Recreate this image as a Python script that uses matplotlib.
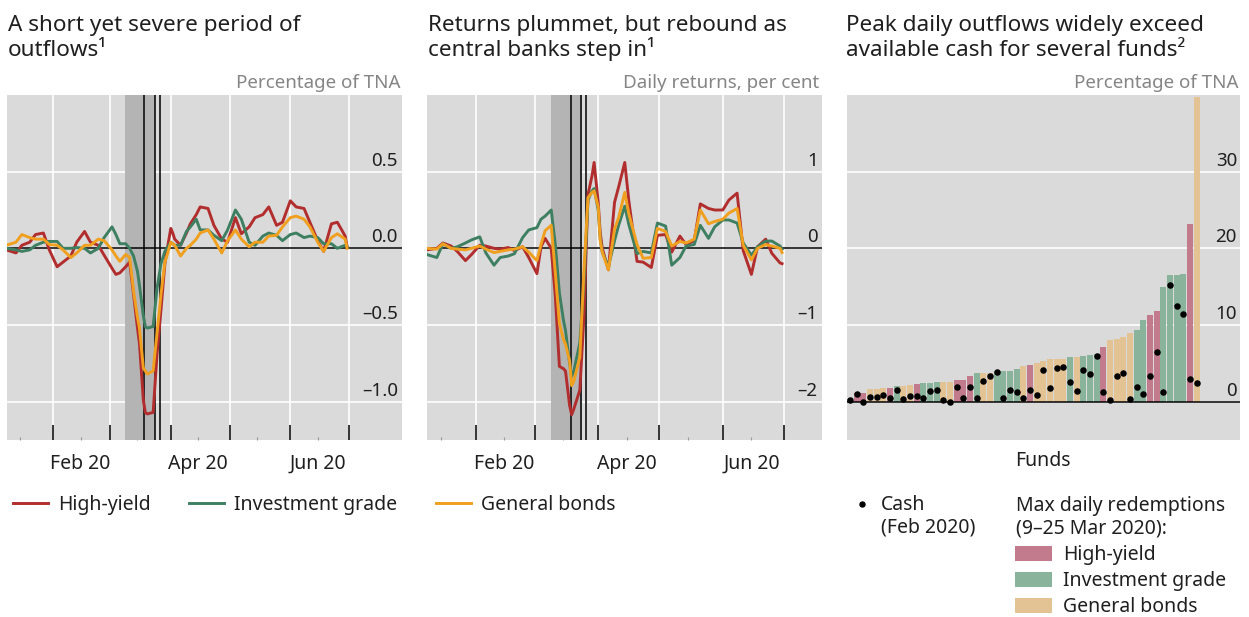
import matplotlib
matplotlib.use('Agg')
import matplotlib.pyplot as plt
import matplotlib.transforms as mtransforms
from matplotlib.lines import Line2D
from matplotlib.patches import Rectangle
import pandas as pd

plt.rcParams['font.family'] = ['Noto Sans', 'DejaVu Sans']

# ---------------- data ----------------
dates = ['2020-01-08', '2020-01-13', '2020-01-16', '2020-01-20', '2020-01-23', '2020-01-27', '2020-01-30',
         '2020-02-03', '2020-02-06', '2020-02-10', '2020-02-13', '2020-02-17', '2020-02-20', '2020-02-24',
         '2020-02-27', '2020-03-02', '2020-03-04', '2020-03-06', '2020-03-09', '2020-03-11', '2020-03-13',
         '2020-03-15', '2020-03-16', '2020-03-18', '2020-03-19', '2020-03-20', '2020-03-23', '2020-03-25',
         '2020-03-27', '2020-03-29', '2020-03-30', '2020-04-01', '2020-04-02', '2020-04-03', '2020-04-06',
         '2020-04-09', '2020-04-11', '2020-04-14', '2020-04-16', '2020-04-20', '2020-04-23', '2020-04-27',
         '2020-04-30', '2020-05-04', '2020-05-07', '2020-05-11', '2020-05-14', '2020-05-18', '2020-05-21',
         '2020-05-25', '2020-05-28', '2020-06-01', '2020-06-04', '2020-06-08', '2020-06-11', '2020-06-15',
         '2020-06-18', '2020-06-22', '2020-06-25', '2020-06-29', '2020-06-30']

# Panel 1: flows, % of TNA
flows_high_yield = [-0.01, -0.03, 0.02, 0.04, 0.09, 0.10, -0.01, -0.12, -0.09, -0.05, 0.04, 0.11, 0.04, 0.02,
                    -0.045, -0.13, -0.17, -0.16, -0.12, -0.09, -0.30, -0.52, -0.62, -0.99, -1.07, -1.08, -1.07,
                    -0.69, -0.40, -0.10, -0.02, 0.13, 0.10, 0.06, 0.02, 0.10, 0.16, 0.22, 0.27, 0.26, 0.15,
                    0.06, 0.04, 0.20, 0.095, 0.14, 0.20, 0.22, 0.27, 0.15, 0.17, 0.31, 0.27, 0.26, 0.17, 0.05,
                    -0.02, 0.16, 0.17, 0.08, 0.01]
flows_inv_grade = [0.0, -0.01, -0.02, -0.01, 0.02, 0.04, 0.045, 0.045, 0.0, 0.0, 0.005, 0.0, -0.03, 0.0,
                   0.07, 0.14, 0.09, 0.03, 0.03, 0.0, -0.05, -0.15, -0.24, -0.44, -0.51, -0.52, -0.51,
                   -0.26, -0.10, -0.02, 0.0, 0.04, 0.03, 0.02, 0.02, 0.11, 0.14, 0.19, 0.12, 0.12, 0.085,
                   0.05, 0.12, 0.25, 0.19, 0.04, 0.02, 0.08, 0.10, 0.085, 0.05, 0.09, 0.10, 0.07, 0.08, 0.07,
                   0.03, 0.03, 0.0, 0.02, 0.01]
flows_general = [0.02, 0.04, 0.09, 0.07, 0.06, 0.06, 0.025, 0.02, -0.01, -0.06, -0.03, 0.02, 0.02, 0.06,
                 0.05, -0.01, -0.05, -0.085, -0.04, -0.06, -0.28, -0.45, -0.52, -0.78, -0.80, -0.82, -0.80,
                 -0.55, -0.30, -0.09, -0.05, 0.04, 0.03, 0.02, -0.05, 0.0, 0.02, 0.06, 0.10, 0.12, 0.06,
                 -0.03, 0.05, 0.12, 0.06, 0.01, 0.04, 0.04, 0.08, 0.085, 0.14, 0.20, 0.21, 0.19, 0.14, 0.04,
                 -0.02, 0.07, 0.095, 0.06, 0.0]

# Panel 2: daily returns, per cent
ret_high_yield = [-0.02, 0.0, 0.07, 0.03, -0.04, -0.16, -0.08, 0.04, 0.03, 0.0, -0.01, 0.01, -0.03, 0.02,
                  -0.12, -0.33, 0.02, 0.13, 0.0, -0.62, -1.54, -1.57, -1.60, -2.05, -2.17, -2.10, -1.85,
                  -0.90, 0.70, 0.95, 1.12, 0.60, 0.20, 0.0, -0.28, 0.60, 0.80, 1.12, 0.62, -0.17, -0.18,
                  -0.25, 0.17, 0.18, -0.05, 0.16, 0.05, 0.10, 0.58, 0.52, 0.50, 0.50, 0.63, 0.72, -0.03,
                  -0.34, 0.02, 0.12, -0.065, -0.19, -0.20]
ret_inv_grade = [-0.08, -0.12, 0.06, 0.0, 0.02, 0.07, 0.11, 0.15, -0.06, -0.22, -0.12, -0.10, -0.07, 0.14,
                 0.24, 0.27, 0.38, 0.42, 0.50, 0.05, -0.58, -0.94, -1.07, -1.50, -1.67, -1.61, -1.23,
                 -0.45, 0.63, 0.75, 0.78, 0.50, 0.12, -0.05, -0.24, 0.10, 0.30, 0.55, 0.31, -0.07, -0.04,
                 -0.06, 0.33, 0.29, -0.22, -0.12, 0.03, 0.05, 0.30, 0.13, 0.28, 0.37, 0.37, 0.33, 0.07,
                 -0.09, 0.02, 0.095, 0.095, 0.03, -0.01]
ret_general = [0.0, -0.01, 0.06, 0.0, -0.01, -0.02, 0.0, 0.03, -0.01, -0.055, -0.04, -0.02, -0.01, 0.02,
               -0.05, -0.16, 0.05, 0.23, 0.30, -0.32, -0.98, -1.19, -1.25, -1.47, -1.79, -1.74, -1.42,
               -0.30, 0.66, 0.73, 0.75, 0.54, 0.10, -0.05, -0.28, 0.25, 0.40, 0.73, 0.45, 0.05, -0.13,
               -0.12, 0.26, 0.22, 0.03, 0.09, 0.07, 0.12, 0.50, 0.32, 0.35, 0.38, 0.46, 0.52, 0.04,
               -0.15, 0.0, 0.05, 0.03, 0.0, -0.055]

series_labels = ['High-yield', 'Investment grade', 'General bonds']

shade_period = ['2020-03-08 18:00', '2020-03-24 00:00']
event_dates = ['2020-03-18 12:00', '2020-03-23 18:00', '2020-03-26 06:00']
month_ticks = ['2020-02-01', '2020-03-01', '2020-04-01', '2020-05-01', '2020-06-01', '2020-07-01']
mid_month_ticks = ['2020-01-15', '2020-02-15', '2020-03-15', '2020-04-15', '2020-05-15', '2020-06-15']
mid_month_labels = ['', 'Feb 20', '', 'Apr 20', '', 'Jun 20']

p1_yticks = [-1.0, -0.5, 0.0, 0.5]
p1_ylabels = ['–1.0', '–0.5', '0.0', '0.5']
p2_yticks = [-2, -1, 0, 1]
p2_ylabels = ['–2', '–1', '0', '1']
p3_yticks = [0, 10, 20, 30]
p3_ylabels = ['0', '10', '20', '30']

# Panel 3: funds
fund_type = ['HY', 'HY', 'HY', 'GB', 'GB', 'GB', 'HY', 'IG', 'GB', 'GB', 'HY', 'IG', 'IG', 'IG', 'GB', 'GB',
             'HY', 'HY', 'HY', 'IG', 'GB', 'GB', 'IG', 'IG', 'IG', 'IG', 'GB', 'HY', 'GB', 'GB', 'GB', 'GB',
             'GB', 'IG', 'GB', 'IG', 'IG', 'IG', 'HY', 'GB', 'GB', 'GB', 'GB', 'IG', 'IG', 'HY', 'HY', 'IG',
             'IG', 'IG', 'IG', 'HY', 'GB']
max_redemptions = [0.3, 1.13, 1.13, 1.7, 1.7, 1.82, 1.82, 2.08, 2.08, 2.2, 2.34, 2.47, 2.47, 2.6, 2.6, 2.6,
                   2.86, 2.86, 3.38, 3.77, 3.77, 3.77, 4.03, 4.03, 4.03, 4.29, 4.68, 4.81, 5.07, 5.33, 5.5,
                   5.63, 5.63, 5.77, 5.77, 5.9, 6.03, 6.2, 7.07, 7.98, 8.2, 8.45, 8.97, 9.4, 10.7, 11.3,
                   11.83, 14.95, 16.5, 16.5, 16.65, 23.15, 39.8]
cash_feb2020 = [0.26, 1.0, -0.1, 0.56, 0.56, 0.87, 0.52, 1.52, 0.35, 0.74, 0.78, 0.48, 1.34, 1.52, 0.22, -0.05,
                1.9, 0.43, 1.9, 0.48, 2.64, 3.29, 3.9, 0.43, 1.56, 1.26, 0.48, 1.47, 0.82, 4.12, 1.73, 4.33,
                4.5, 2.56, 1.39, 4.07, 3.55, 5.9, 1.21, 0.22, 3.38, 3.77, 0.3, 1.95, 1.0, 3.38, 6.42, 1.26,
                15.26, 12.53, 11.4, 2.99, 2.47]

titles = [['A short yet severe period of', 'outflows¹'],
          ['Returns plummet, but rebound as', 'central banks step in¹'],
          ['Peak daily outflows widely exceed', 'available cash for several funds²']]
units = ['Percentage of TNA', 'Daily returns, per cent', 'Percentage of TNA']

# ---------------- style ----------------
W, H = 1249, 617
BG = '#DADADA'
SHADE = '#B4B4B4'
TXT = '#1f1f1f'
UNIT = '#858585'
LINE_COLORS = ['#B22D2D', '#3E7F61', '#F0A01E']
BAR_COLORS = {'HY': '#C27B8C', 'IG': '#8AB39B', 'GB': '#E3C393'}
BAR_NAMES = {'HY': 'High-yield', 'IG': 'Investment grade', 'GB': 'General bonds'}
FS_TITLE = 16.2
FS = 14
FS_TICK = 13.5

fig = plt.figure(figsize=(W / 100, H / 100), dpi=100)


def rect(l, t, r, b):
    return [l / W, 1 - b / H, (r - l) / W, (b - t) / H]


def px(x, y):
    return (x / W, 1 - y / H)


ax1 = fig.add_axes(rect(7, 95, 402, 440))
ax2 = fig.add_axes(rect(427.3, 95, 821.7, 440))
ax3 = fig.add_axes(rect(846.7, 95, 1240, 440))

d = pd.to_datetime(dates)


def right_labels(ax, vals, labels, dx=-4, dy=6):
    tr = mtransforms.blended_transform_factory(ax.transAxes, ax.transData)
    tr = tr + mtransforms.ScaledTranslation(dx / 100, dy / 100, fig.dpi_scale_trans)
    for v, l in zip(vals, labels):
        ax.text(1, v, l, transform=tr, ha='right', va='baseline', fontsize=FS_TICK, color=TXT, zorder=5)


def unit_label(ax, text):
    tr = ax.transAxes + mtransforms.ScaledTranslation(-2 / 100, 7 / 100, fig.dpi_scale_trans)
    ax.text(1, 1, text, transform=tr, ha='right', va='baseline', fontsize=FS_TICK, color=UNIT)


def style_common(ax):
    ax.set_facecolor(BG)
    for s in ax.spines.values():
        s.set_visible(False)
    ax.set_axisbelow(True)


def time_panel(ax, series, ylim, yticks, ylabels, xlim):
    style_common(ax)
    ax.axvspan(pd.Timestamp(shade_period[0]), pd.Timestamp(shade_period[1]), color=SHADE, lw=0, zorder=0.8)
    for e in event_dates:
        ax.axvline(pd.Timestamp(e), color='black', lw=1.1, zorder=1.6)
    ax.axhline(0, color='black', lw=1.1, zorder=1.5)
    lines = []
    for vals, c, lab in zip(series, LINE_COLORS, series_labels):
        ln, = ax.plot(d, vals, color=c, lw=2.1, label=lab, zorder=3, solid_joinstyle='round')
        lines.append(ln)
    ax.set_ylim(*ylim)
    ax.set_xlim(pd.Timestamp(xlim[0]), pd.Timestamp(xlim[1]))
    ax.set_yticks(yticks)
    ax.tick_params(axis='y', length=0, labelleft=False, labelright=False)
    ax.set_xticks(pd.to_datetime(month_ticks))
    ax.set_xticks(pd.to_datetime(mid_month_ticks), labels=mid_month_labels, minor=True)
    ax.tick_params(axis='x', which='major', direction='in', length=11, width=1.1, color='black',
                   labelbottom=False)
    ax.tick_params(axis='x', which='minor', direction='in', length=2, width=0.8, color='#9a9a9a',
                   labelbottom=True, labelsize=FS, labelcolor=TXT, pad=10)
    ax.grid(True, which='major', axis='both', color='white', lw=1.2)
    right_labels(ax, yticks, ylabels)
    return lines


lines = time_panel(ax1, [flows_high_yield, flows_inv_grade, flows_general], (-1.25, 1.0),
                   p1_yticks, p1_ylabels, ('2020-01-08 10:00', '2020-07-28'))
time_panel(ax2, [ret_high_yield, ret_inv_grade, ret_general], (-2.5, 2.0),
           p2_yticks, p2_ylabels, ('2020-01-08 08:00', '2020-07-19 10:00'))

for ax, u in zip([ax1, ax2, ax3], units):
    unit_label(ax, u)

# Panel 3
style_common(ax3)
xpos = list(range(len(max_redemptions)))
ax3.bar(xpos, max_redemptions, width=0.88, color=[BAR_COLORS[t] for t in fund_type], lw=0, zorder=2)
ax3.scatter(xpos, cash_feb2020, s=22, color='black', zorder=4, lw=0)
ax3.axhline(0, color='black', lw=1.1, zorder=3)
ax3.set_xlim(-0.5, 58.5)
ax3.set_ylim(-5, 40)
ax3.set_yticks(p3_yticks)
ax3.yaxis.grid(True, color='white', lw=1.2)
ax3.tick_params(axis='y', length=0, labelleft=False)
ax3.set_xticks([])
ax3.set_xlabel('Funds', fontsize=FS, color=TXT, labelpad=8)
right_labels(ax3, p3_yticks, p3_ylabels, dx=-3)

# Titles (two lines each)
for x0, (l1, l2) in zip([8, 428, 846], titles):
    fig.text(*px(x0, 31), l1, fontsize=FS_TITLE, color=TXT, va='baseline', ha='left')
    fig.text(*px(x0, 56), l2, fontsize=FS_TITLE, color=TXT, va='baseline', ha='left')

# Line legend
fig.legend(lines, series_labels, loc='center left', bbox_to_anchor=px(13, 505), ncol=3, frameon=False,
           fontsize=FS, handlelength=1.8, handletextpad=0.5, columnspacing=2.0, borderpad=0,
           borderaxespad=0, labelcolor=TXT)

# Panel 3 legend (manual)
fig.add_artist(Line2D([862 / W], [1 - 504 / H], marker='o', ms=3.6, color='black', lw=0,
                      transform=fig.transFigure))
fig.text(*px(881, 510), 'Cash', fontsize=FS, color=TXT, va='baseline')
fig.text(*px(881, 532.5), '(Feb 2020)', fontsize=FS, color=TXT, va='baseline')
fig.text(*px(1016, 511.5), 'Max daily redemptions', fontsize=FS, color=TXT, va='baseline')
fig.text(*px(1016, 533.5), '(9–25 Mar 2020):', fontsize=FS, color=TXT, va='baseline')
for i, key in enumerate(['HY', 'IG', 'GB']):
    top = 546 + i * 26.2
    fig.add_artist(Rectangle(px(1015, top + 14.5), 37 / W, 14.5 / H, transform=fig.transFigure,
                             color=BAR_COLORS[key], lw=0))
    fig.text(*px(1063, top + 14), BAR_NAMES[key], fontsize=FS, color=TXT, va='baseline')

fig.savefig('out.png', dpi=100)
